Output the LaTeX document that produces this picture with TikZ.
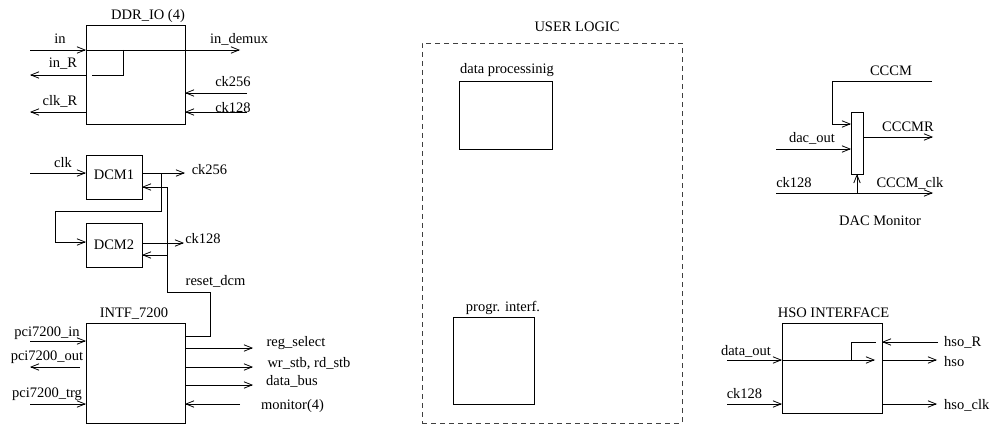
\documentclass[tikz,border=0pt]{standalone}
\usepackage{fontspec}
\setmainfont{Liberation Serif}
\usetikzlibrary{arrows.meta}
\newcommand\lblfont{\fontsize{14.5}{16}\selectfont}
\begin{document}
\begin{tikzpicture}[x=1pt,y=-1pt,
  box/.style={draw, line width=0.8pt, inner sep=0pt, outer sep=0pt, anchor=north west},
  lbl/.style={font=\lblfont, inner sep=0pt, anchor=base},
  wire/.style={line width=0.8pt},
  sig/.style={line width=0.8pt, -{Straight Barb[length=8pt,width=6.5pt]}},
  dashbox/.style={draw=black!75, line width=0.8pt, dash pattern=on 5pt off 4pt}]
\useasboundingbox (0,0) rectangle (991,428);

% ---------- DDR_IO ----------
\node[box, minimum width=99pt, minimum height=99pt] (ddr) at (86,25) {};
\node[lbl] (tddr) at (148,20) {DDR\_IO (4)};
\coordinate (inL) at (30,50);
\coordinate (inDemux) at (240,50);
\coordinate (tap) at (123,50);
\coordinate (tapB) at (123,75);
\coordinate (tapE) at (92,75);
\coordinate (inR) at (30,75);
\coordinate (clkR) at (30,112);
\coordinate (ckA) at (247,93);
\coordinate (ckB) at (247,112);
\draw[sig] (inL) -- (inL -| ddr.west);
\draw[sig] (inL -| ddr.west) -- (inDemux);
\draw[wire] (tap) -- (tapB) -- (tapE);
\draw[sig] (inR -| ddr.west) -- (inR);
\draw[sig] (clkR -| ddr.west) -- (clkR);
\draw[sig] (ckA) -- (ckA -| ddr.east);
\draw[sig] (ckB) -- (ckB -| ddr.east);
\node[lbl] at (60,44) {in};
\node[lbl] at (239,44) {in\_demux};
\node[lbl] at (63,68) {in\_R};
\node[lbl] at (60,105) {clk\_R};
\node[lbl] at (233,87) {ck256};
\node[lbl] at (233,112) {ck128};

% ---------- DCM ----------
\node[box, minimum width=56pt, minimum height=44pt] (dcm1) at (86,155) {};
\node[box, minimum width=56pt, minimum height=44pt] (dcm2) at (86,223) {};
\node[lbl] at (114,179) {DCM1};
\node[lbl] at (114,249) {DCM2};
\coordinate (clkIn) at (30,173);
\coordinate (ck256o) at (185,173);
\coordinate (br0) at (161,173);
\coordinate (br1) at (161,211);
\coordinate (br2) at (55,211);
\coordinate (br3) at (55,242);
\coordinate (ck128o) at (184,243);
\coordinate (rs0) at (167,187);
\coordinate (rs1) at (167,255);
\coordinate (rs2) at (167,292);
\coordinate (rs3) at (210,292);
\coordinate (rs4) at (210,336);
\draw[sig] (clkIn) -- (clkIn -| dcm1.west);
\draw[sig] (ck256o -| dcm1.east) -- (ck256o);
\draw[sig] (br0) -- (br1) -- (br2) -- (br3) -- (br3 -| dcm2.west);
\draw[sig] (ck128o -| dcm2.east) -- (ck128o);
\draw[sig] (rs0) -- (rs0 -| dcm1.east);
\draw[sig] (rs1) -- (rs1 -| dcm2.east);
\draw[wire] (rs0) -- (rs2) -- (rs3) -- (rs4) -- (rs4 -| ddr.east);
\node[lbl] at (63,167) {clk};
\node[lbl] at (209.5,174) {ck256};
\node[lbl] at (203,243) {ck128};
\node[lbl] at (215.5,285) {reset\_dcm};

% ---------- INTF_7200 ----------
\node[box, minimum width=99pt, minimum height=100pt] (intf) at (86,323) {};
\node[lbl] at (134,317) {INTF\_7200};
\coordinate (pin) at (30,341);
\coordinate (pout) at (80,367);
\coordinate (poutE) at (30,367);
\coordinate (ptrg) at (30,404);
\coordinate (oreg) at (253,348);
\coordinate (owr) at (253,367);
\coordinate (odata) at (253,385);
\coordinate (imon) at (240,404);
\draw[sig] (pin) -- (pin -| intf.west);
\draw[sig] (pout) -- (poutE);
\draw[sig] (ptrg) -- (ptrg -| intf.west);
\draw[sig] (oreg -| intf.east) -- (oreg);
\draw[sig] (owr -| intf.east) -- (owr);
\draw[sig] (odata -| intf.east) -- (odata);
\draw[sig] (imon) -- (imon -| intf.east);
\node[lbl] at (47,336) {pci7200\_in};
\node[lbl] at (47,360) {pci7200\_out};
\node[lbl] at (47,397) {pci7200\_trg};
\node[lbl] at (296,346) {reg\_select};
\node[lbl] at (309,367) {wr\_stb, rd\_stb};
\node[lbl] at (292,385) {data\_bus};
\node[lbl] at (292.5,409) {monitor(4)};

% ---------- USER LOGIC ----------
\node[box, dashbox, minimum width=260pt, minimum height=380pt] (ul) at (422,43) {};
\node[lbl] at (577,32) {USER LOGIC};
\node[box, minimum width=93pt, minimum height=68pt] (dp) at (459,81) {};
\node[lbl] at (507,74) {data processinig};
\node[box, minimum width=81pt, minimum height=87pt] (pi) at (453,317) {};
\node[lbl] at (503,311) {progr. interf.};

% ---------- DAC Monitor ----------
\node[box, minimum width=12pt, minimum height=62pt] (dac) at (851,112) {};
\coordinate (cc0) at (932,81);
\coordinate (cc1) at (832,81);
\coordinate (cc2) at (832,124);
\coordinate (ccr) at (933,137);
\coordinate (dacin) at (776,149);
\coordinate (ckd0) at (776,193);
\coordinate (ckd1) at (933,193);
\coordinate (ckup) at (857,193);
\draw[sig] (cc0) -- (cc1) -- (cc2) -- (cc2 -| dac.west);
\draw[sig] (ccr -| dac.east) -- (ccr);
\draw[sig] (dacin) -- (dacin -| dac.west);
\draw[sig] (ckd0) -- (ckd1);
\draw[sig] (ckup) -- (ckup |- dac.south);
\node[lbl] at (891,75) {CCCM};
\node[lbl] at (908,131) {CCCMR};
\node[lbl] at (812,142) {dac\_out};
\node[lbl] at (794,187) {ck128};
\node[lbl] at (910,187) {CCCM\_clk};
\node[lbl] at (880,225) {DAC Monitor};

% ---------- HSO INTERFACE ----------
\node[box, minimum width=100pt, minimum height=90pt] (hso) at (782,323) {};
\node[lbl] at (833.5,317) {HSO INTERFACE};
\coordinate (dout) at (727,360);
\coordinate (dinE) at (875,360);
\coordinate (hb0) at (851,360);
\coordinate (hb1) at (851,342);
\coordinate (hb2) at (876,342);
\coordinate (hR) at (938,342);
\coordinate (hO) at (937,360);
\coordinate (hck) at (727,404);
\coordinate (hckO) at (937,404);
\draw[sig] (dout) -- (dout -| hso.west);
\draw[sig] (dout -| hso.west) -- (dinE);
\draw[wire] (hb0) -- (hb1) -- (hb2);
\draw[sig] (hR) -- (hR -| hso.east);
\draw[sig] (hO -| hso.east) -- (hO);
\draw[sig] (hck) -- (hck -| hso.west);
\draw[sig] (hckO -| hso.east) -- (hckO);
\node[lbl] at (746,355) {data\_out};
\node[lbl] at (744.5,398) {ck128};
\node[lbl, anchor=base west] at (944,346) {hso\_R};
\node[lbl, anchor=base west] at (944,366) {hso};
\node[lbl, anchor=base west] at (944,409) {hso\_clk};
\end{tikzpicture}
\end{document}
